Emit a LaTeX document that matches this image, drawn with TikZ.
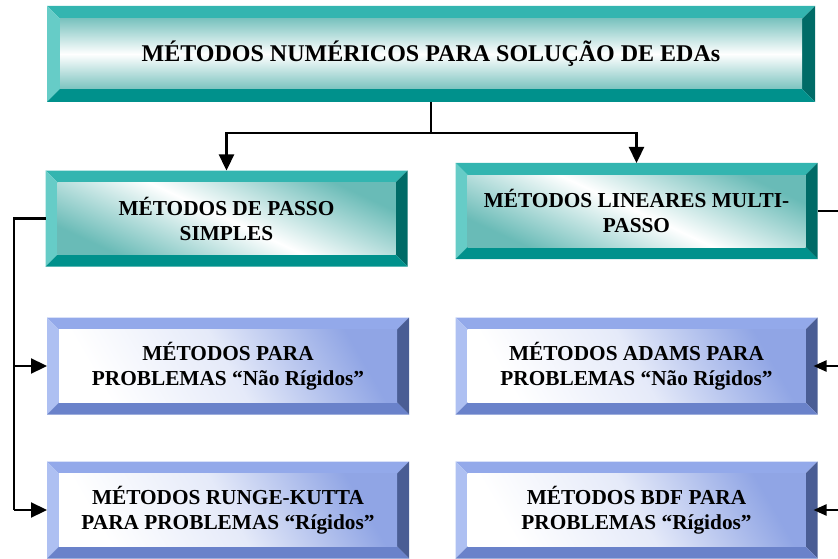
\documentclass[tikz,border=0pt]{standalone}
\usepackage{fontspec}
\setmainfont{Liberation Serif}
\usetikzlibrary{arrows.meta,calc}
\definecolor{tTop}{HTML}{33B5B0}
\definecolor{tLeft}{HTML}{66CCC7}
\definecolor{tRight}{HTML}{006B67}
\definecolor{tBot}{HTML}{00918C}
\definecolor{tIn}{HTML}{4FAFAA}
\definecolor{bTop}{HTML}{93A9EA}
\definecolor{bLeft}{HTML}{AEC0F2}
\definecolor{bRight}{HTML}{4A5D94}
\definecolor{bBot}{HTML}{6A82CA}
\definecolor{bIn}{HTML}{7C95E0}
\newcommand\mybevel[6]{%
  \path (path picture bounding box.north west) coordinate (@nw)
        (path picture bounding box.north east) coordinate (@ne)
        (path picture bounding box.south west) coordinate (@sw)
        (path picture bounding box.south east) coordinate (@se);
  \path ($(@nw)+(#1pt,-#1pt)$) coordinate (@inw)
        ($(@ne)+(-#1pt,-#1pt)$) coordinate (@ine)
        ($(@sw)+(#1pt,#1pt)$) coordinate (@isw)
        ($(@se)+(-#1pt,#1pt)$) coordinate (@ise);
  \fill[#2] (@nw) -- (@ne) -- (@ine) -- (@inw) -- cycle;
  \fill[#3] (@nw) -- (@inw) -- (@isw) -- (@sw) -- cycle;
  \fill[#4] (@ne) -- (@se) -- (@ise) -- (@ine) -- cycle;
  \fill[#5] (@sw) -- (@isw) -- (@ise) -- (@se) -- cycle;
  \shade[#6] (@inw) rectangle (@ise);
}
\tikzset{
  boxbase/.style={rectangle, inner sep=0pt, outer sep=0pt, align=center,
    font=\bfseries\fontsize{21.3}{25}\selectfont},
  titlebox/.style={boxbase, minimum width=768pt, minimum height=96pt,
    font=\bfseries\fontsize{24}{28}\selectfont,
    path picture={\mybevel{13}{tTop}{tLeft}{tRight}{tBot}{top color=tIn!75, bottom color=tIn!75, middle color=white}}},
  tealbox/.style={boxbase, minimum width=362pt, minimum height=96pt,
    path picture={\mybevel{12}{tTop}{tLeft}{tRight}{tBot}{top color=tIn!85, bottom color=tIn!85, middle color=white, shading angle=-25}}},
  bluebox/.style={boxbase, minimum width=362pt, minimum height=97pt,
    path picture={\mybevel{12}{bTop}{bLeft}{bRight}{bBot}{left color=white, right color=bIn!85, middle color=white!80!bIn, shading angle=120}}},
  lin/.style={line width=2.3pt, black},
  arr/.style={lin, -{Triangle[length=16pt,width=15pt]}},
  rarr/.style={lin, -{Triangle[length=13pt,width=11pt]}}
}
\begin{document}
\begin{tikzpicture}[x=1pt, y=-1pt]
\path[use as bounding box, clip] (0,0) rectangle (838,559);
\node[titlebox] (title) at (431,54) {MÉTODOS NUMÉRICOS PARA SOLUÇÃO DE EDAs};
\node[tealbox] (ps) at (226.5,218.5) {MÉTODOS DE PASSO\\SIMPLES};
\node[tealbox] (mp) at (636.5,211) {MÉTODOS LINEARES MULTI-\\PASSO};
\node[bluebox] (np) at (228,366) {MÉTODOS PARA\\PROBLEMAS “Não Rígidos”};
\node[bluebox] (rk) at (228,510) {MÉTODOS RUNGE-KUTTA\\PARA PROBLEMAS “Rígidos”};
\node[bluebox] (ad) at (636.5,366) {MÉTODOS ADAMS PARA\\PROBLEMAS “Não Rígidos”};
\node[bluebox] (bdf) at (636.5,510) {MÉTODOS BDF PARA\\PROBLEMAS “Rígidos”};
\coordinate (j) at (431,133);
\draw[lin] (title.south) -- (j);
\draw[arr] (j) -| (ps.north);
\draw[arr] (j) -| (mp.north);
\coordinate (lt) at (14,218.5);
\coordinate (lb) at (14,510);
\draw[lin] (ps.west) -- (lt) -- (lb);
\draw[arr] (lt |- np.west) -- (np.west);
\draw[arr] (lb) -- (rk.west);
\coordinate (rt) at (850,211);
\coordinate (rb) at (850,510);
\draw[lin] (mp.east) -- (rt) -- (rb);
\draw[rarr] (rt |- ad.east) -- ([xshift=-4pt]ad.east);
\draw[rarr] (rb) -- ([xshift=-4pt]bdf.east);
\end{tikzpicture}
\end{document}
